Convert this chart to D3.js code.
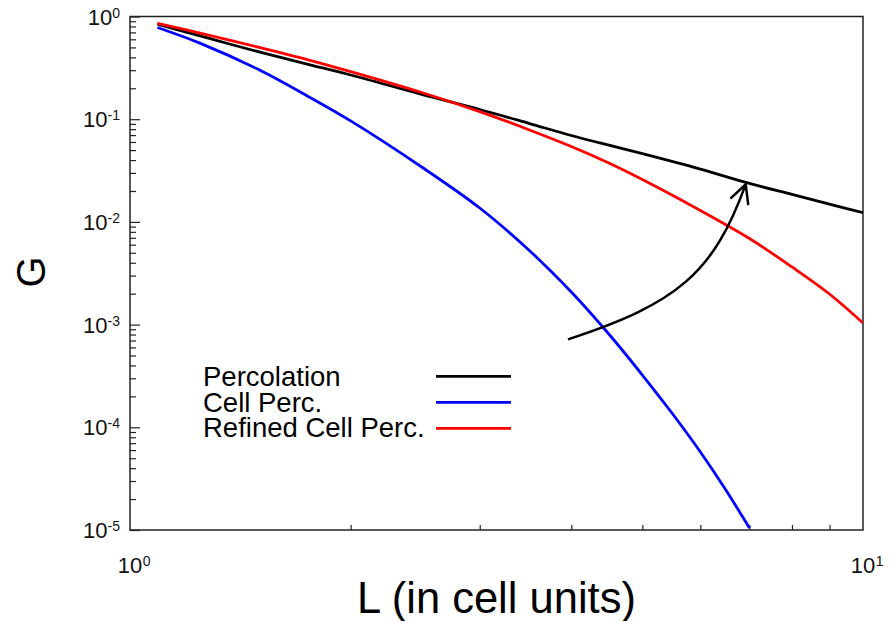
<!DOCTYPE html>
<html>
<head>
<meta charset="utf-8">
<script src="https://cdn.jsdelivr.net/npm/d3@7"></script>
<style>
  html, body { margin: 0; padding: 0; background: #fff; }
  svg { display: block; font-family: "Liberation Sans", Arial, sans-serif; }
</style>
</head>
<body>
<div id="chart"></div>
<script>
// data
const lPerc = [1.09, 1.25, 1.5, 1.75, 2, 2.5, 3, 3.5, 4, 4.5, 5, 6, 7, 8, 9, 10];
const gPerc = [0.841, 0.643, 0.452, 0.342, 0.2694, 0.1744, 0.1243, 0.0912, 0.0694, 0.0558, 0.0462, 0.0327, 0.0237, 0.0185, 0.01487, 0.01229];

const lRefined = [1.09, 1.25, 1.5, 1.75, 2, 2.5, 3, 3.5, 4, 4.5, 5, 6, 7, 8, 9, 10];
const gRefined = [0.859, 0.686, 0.501, 0.379, 0.2907, 0.182, 0.1186, 0.079, 0.0542, 0.03746, 0.02587, 0.01291, 0.00689, 0.00364, 0.001986, 0.001036];

const lCell = [1.09, 1.25, 1.5, 1.75, 2, 2.5, 3, 3.5, 4, 4.5, 5, 5.5, 6, 6.5, 7];
const gCell = [0.781, 0.5446, 0.3027, 0.1667, 0.0962, 0.03423, 0.01366, 0.005325, 0.002077, 8.10e-4, 3.23e-4, 1.347e-4, 5.75e-5, 2.45e-5, 1.046e-5];

const seriesNames = ["Percolation", "Cell Perc.", "Refined Cell Perc."];
const seriesColors = ["#000000", "#0000ff", "#ff0000"];

const yTickExps = [0, -1, -2, -3, -4, -5];
const xTickExps = [0, 1];

// arrow annotation (start, control 1, control 2, tip) in data units
const arrowL = [3.958, 5.596, 6.256, 6.918];
const arrowG = [7.19e-4, 1.608e-3, 3.216e-3, 0.0232];

const width = 896, height = 621;
const margin = { left: 130, right: 33, top: 16.5, bottom: 91 };

const svg = d3.select("#chart")
    .append("svg")
    .attr("width", width)
    .attr("height", height);

const x = d3.scaleLog()
    .domain([1, 10])
    .range([margin.left, width - margin.right]);

const y = d3.scaleLog()
    .domain([1e-5, 1])
    .range([height - margin.bottom, margin.top]);

svg.append("clipPath")
    .attr("id", "plotClip")
    .append("rect")
    .attr("x", margin.left)
    .attr("y", margin.top)
    .attr("width", width - margin.left - margin.right)
    .attr("height", height - margin.top - margin.bottom);

// ticks - only left and bottom, pointing inwards
const yMinor = [];
for (let e = -5; e < 0; e++) {
    for (let m = 2; m <= 9; m++) yMinor.push(m * Math.pow(10, e));
}
const xMinor = [2, 3, 4, 5, 6, 7, 8, 9];

svg.append("g")
    .attr("transform", `translate(${margin.left},0)`)
    .call(d3.axisLeft(y).tickValues(yTickExps.map(e => Math.pow(10, e))).tickSize(-10).tickFormat(""))
    .call(g => g.select(".domain").remove());
svg.append("g")
    .attr("transform", `translate(${margin.left},0)`)
    .call(d3.axisLeft(y).tickValues(yMinor).tickSize(-6).tickFormat(""))
    .call(g => g.select(".domain").remove());
svg.append("g")
    .attr("transform", `translate(0,${height - margin.bottom})`)
    .call(d3.axisBottom(x).tickValues(xMinor).tickSize(-5).tickFormat(""))
    .call(g => g.select(".domain").remove());

svg.selectAll(".tick line").attr("stroke", "#222").attr("stroke-width", 1.2);

// frame
svg.append("rect")
    .attr("x", margin.left)
    .attr("y", margin.top)
    .attr("width", width - margin.left - margin.right)
    .attr("height", height - margin.top - margin.bottom)
    .attr("fill", "none")
    .attr("stroke", "#222")
    .attr("stroke-width", 1.5);

// y tick labels 10^n
yTickExps.forEach(function (e) {
    const t = svg.append("text")
        .attr("x", margin.left - 10)
        .attr("y", y(Math.pow(10, e)) + 8)
        .attr("text-anchor", "end")
        .attr("font-size", 22)
        .attr("fill", "#111");
    t.append("tspan").text("10");
    t.append("tspan").attr("font-size", 14).attr("dy", -7).text(e);
});

// x tick labels, digits centred on the tick
xTickExps.forEach(function (e) {
    const xp = x(Math.pow(10, e));
    const base = svg.append("text")
        .attr("x", xp)
        .attr("y", 573)
        .attr("text-anchor", "middle")
        .attr("font-size", 22)
        .attr("fill", "#111")
        .text("10");
    const w = base.node().getComputedTextLength();
    svg.append("text")
        .attr("x", xp + w / 2 + 0.5)
        .attr("y", 566)
        .attr("font-size", 14)
        .attr("fill", "#111")
        .text(e);
});

// axis titles
svg.append("text")
    .attr("x", (margin.left + width - margin.right) / 2)
    .attr("y", 613)
    .attr("text-anchor", "middle")
    .attr("font-size", 43.5)
    .attr("fill", "#000")
    .text("L (in cell units)");

svg.append("text")
    .attr("transform", "translate(45,272) rotate(-90)")
    .attr("text-anchor", "middle")
    .attr("font-size", 40)
    .attr("fill", "#000")
    .text("G");

// curves
const line = d3.line()
    .x(d => x(d[0]))
    .y(d => y(d[1]))
    .curve(d3.curveCatmullRom.alpha(0.5));

const curves = [
    d3.zip(lPerc, gPerc),
    d3.zip(lCell, gCell),
    d3.zip(lRefined, gRefined)
];

const plot = svg.append("g").attr("clip-path", "url(#plotClip)");

// blue first, then black, red on top
[1, 0, 2].forEach(function (i) {
    plot.append("path")
        .datum(curves[i])
        .attr("d", line)
        .attr("fill", "none")
        .attr("stroke", seriesColors[i])
        .attr("stroke-width", 2.8)
        .attr("stroke-linejoin", "round");
});

// arrow
const ap = arrowL.map((l, i) => [x(l), y(arrowG[i])]);
const arrowPath = d3.path();
arrowPath.moveTo(ap[0][0], ap[0][1]);
arrowPath.bezierCurveTo(ap[1][0], ap[1][1], ap[2][0], ap[2][1], ap[3][0], ap[3][1]);
svg.append("path")
    .attr("d", arrowPath.toString())
    .attr("fill", "none")
    .attr("stroke", "#000")
    .attr("stroke-width", 2.5);

const back = Math.atan2(ap[2][1] - ap[3][1], ap[2][0] - ap[3][0]);
const headLen = 21, headAng = 27 * Math.PI / 180;
const head = d3.path();
head.moveTo(ap[3][0] + headLen * Math.cos(back + headAng), ap[3][1] + headLen * Math.sin(back + headAng));
head.lineTo(ap[3][0], ap[3][1]);
head.lineTo(ap[3][0] + headLen * Math.cos(back - headAng), ap[3][1] + headLen * Math.sin(back - headAng));
svg.append("path")
    .attr("d", head.toString())
    .attr("fill", "none")
    .attr("stroke", "#000")
    .attr("stroke-width", 2.5);

// legend
const legend = svg.append("g");
seriesNames.forEach(function (name, i) {
    legend.append("text")
        .attr("x", 203)
        .attr("y", 386 + i * 25.7)
        .attr("font-size", 27.5)
        .attr("fill", "#000")
        .text(name);
    legend.append("line")
        .attr("x1", 436)
        .attr("x2", 511)
        .attr("y1", 376.3 + i * 26)
        .attr("y2", 376.3 + i * 26)
        .attr("stroke", seriesColors[i])
        .attr("stroke-width", 2.8);
});
</script>
</body>
</html>
